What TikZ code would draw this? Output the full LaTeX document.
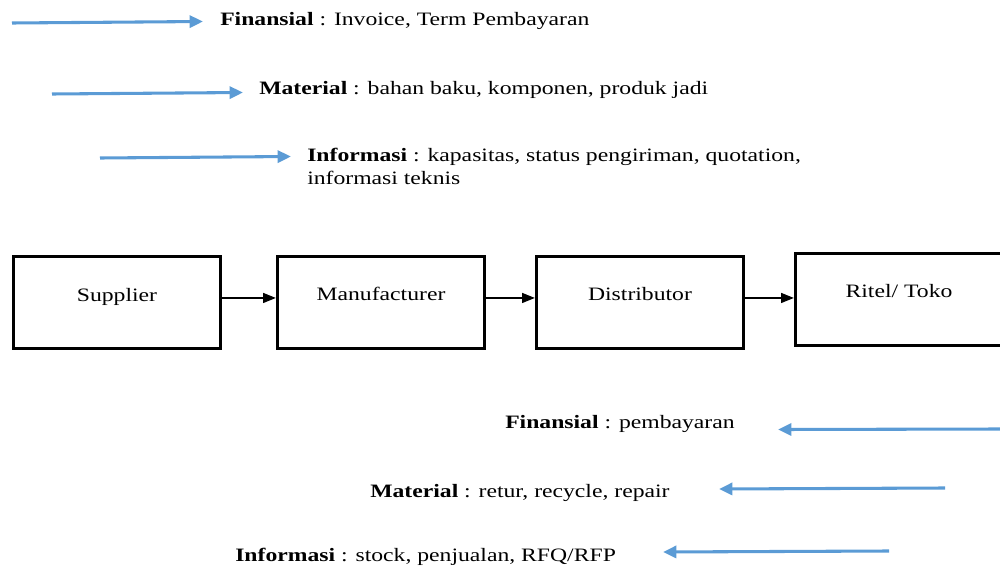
\documentclass[tikz,border=0pt]{standalone}
\usepackage{fontspec}
\setmainfont{Liberation Serif}[FakeStretch=1.25]
\usetikzlibrary{arrows.meta}
\definecolor{flowblue}{RGB}{91,155,213}
\tikzset{
  flow/.style={draw=flowblue,line width=2.3pt,-{Triangle[length=10pt,width=9pt]}},
  conn/.style={draw=black,line width=0.8pt,-{Triangle[length=9.5pt,width=7.5pt]}},
  box/.style={draw=black,line width=2.3pt,rectangle,minimum width=155.5pt,minimum height=69pt,inner sep=0pt},
  lbl/.style={font=\fontsize{14.2pt}{17pt}\selectfont,inner sep=0pt},
}
\begin{document}
\begin{tikzpicture}[x=0.75pt,y=-0.75pt]
\useasboundingbox (0,0) rectangle (1000,567);
\clip (0,0) rectangle (1000,567);
% top flows
\coordinate (f1s) at (12,23); \coordinate (f1e) at (203,21.5);
\coordinate (f2s) at (52,94); \coordinate (f2e) at (243,92.5);
\coordinate (f3s) at (100,158); \coordinate (f3e) at (291,156.5);
\draw[flow] (f1s) -- (f1e);
\draw[flow] (f2s) -- (f2e);
\draw[flow] (f3s) -- (f3e);
\node[lbl,anchor=base west] (t1) at (220,25.5) {\textbf{Finansial} : Invoice, Term Pembayaran};
\node[lbl,anchor=base west] (t2) at (259,94.5) {\textbf{Material} : bahan baku, komponen, produk jadi};
\node[lbl,anchor=base west] (t3) at (307,161.5) {\textbf{Informasi} : kapasitas, status pengiriman, quotation,};
\node[lbl,anchor=base west] (t3b) at (307,184.5) {informasi teknis};
% boxes
\node[box] (sup) at (117,302.5) {};
\node[box] (man) at (381,302.5) {};
\node[box] (dis) at (640,302.5) {};
\node[box] (rit) at (899,299.5) {};
\node[lbl,anchor=base] (lsup) at (117,301) {Supplier};
\node[lbl,anchor=base] (lman) at (381,300) {Manufacturer};
\node[lbl,anchor=base] (ldis) at (640,300) {Distributor};
\node[lbl,anchor=base] (lrit) at (899,297) {Ritel/ Toko};
\draw[conn] ([yshift=3.4pt]sup.east) -- ([yshift=3.4pt]man.west);
\draw[conn] ([yshift=3.4pt]man.east) -- ([yshift=3.4pt]dis.west);
\draw[conn] ([yshift=3.4pt]dis.east) -- ([yshift=3.4pt]dis.east -| rit.west);
% bottom flows
\coordinate (b1s) at (1002,429); \coordinate (b1e) at (778,429.5);
\coordinate (b2s) at (945,488); \coordinate (b2e) at (719,489);
\coordinate (b3s) at (889,551); \coordinate (b3e) at (663,552);
\draw[flow] (b1s) -- (b1e);
\draw[flow] (b2s) -- (b2e);
\draw[flow] (b3s) -- (b3e);
\node[lbl,anchor=base west] (u1) at (505,428.5) {\textbf{Finansial} : pembayaran};
\node[lbl,anchor=base west] (u2) at (370,497) {\textbf{Material} : retur, recycle, repair};
\node[lbl,anchor=base west] (u3) at (235,561) {\textbf{Informasi} : stock, penjualan, RFQ/RFP};
\end{tikzpicture}
\end{document}
